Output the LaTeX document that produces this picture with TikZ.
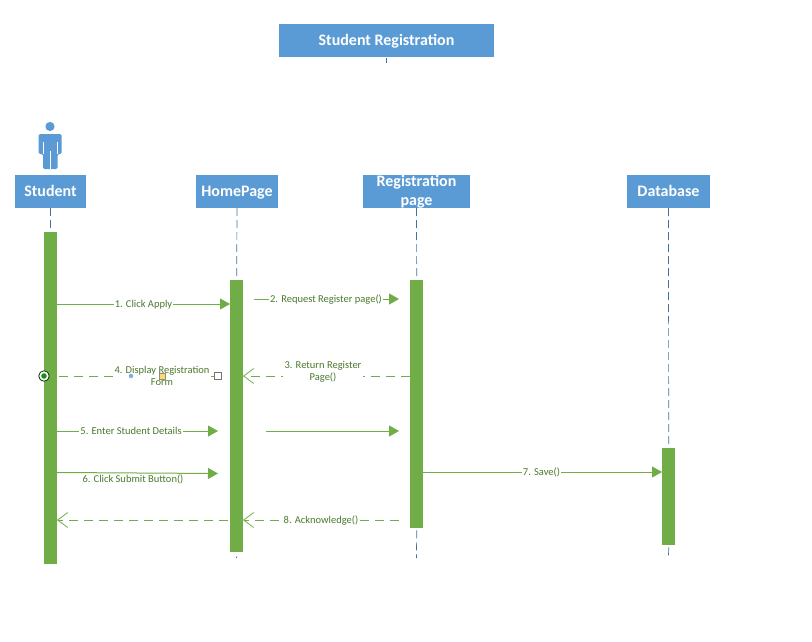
\documentclass[tikz,border=0pt]{standalone}
\usepackage{fontspec}
\setmainfont{Carlito}
\usetikzlibrary{arrows.meta}
\definecolor{hdrblue}{HTML}{5B9BD5}
\definecolor{linegreen}{HTML}{70AD47}
\definecolor{txtgreen}{HTML}{4A7A2E}
\definecolor{lifeblue}{HTML}{41719C}
\tikzset{
  header/.style={fill=hdrblue,text=white,font=\fontsize{16}{21}\selectfont\bfseries,align=center,inner sep=0pt,anchor=center},
  oneline/.style={text height=12.5pt,text depth=2.5pt},
  bar/.style={fill=linegreen,inner sep=0pt,anchor=north west},
  lifeline/.style={draw=lifeblue,line width=0.7pt,dash pattern=on 8pt off 4pt},
  msg/.style={draw=linegreen,line width=1pt,-{Triangle[length=10pt,width=11pt,fill=linegreen]}},
  retmsg/.style={draw=linegreen,line width=1pt,dash pattern=on 9pt off 6pt,-{Straight Barb[length=10pt,width=15pt,line width=0.8pt]}},
  dashmsg/.style={draw=linegreen,line width=1pt,dash pattern=on 9pt off 6pt},
  lbl/.style={text=txtgreen,font=\fontsize{10.5}{12}\selectfont,align=center,inner sep=1pt,fill=white},
  lblclear/.style={text=txtgreen,font=\fontsize{10.5}{12}\selectfont,align=center,inner sep=0pt},
}
\begin{document}
\begin{tikzpicture}[x=1pt,y=-1pt]
\useasboundingbox (0,0) rectangle (812,642);
% headers
\node[header,oneline,minimum width=215pt,minimum height=33pt] (title) at (386.5,40.5) {Student Registration};
\node[header,oneline,minimum width=71pt,minimum height=33pt] (student) at (50.5,191.5) {Student};
\node[header,oneline,minimum width=82pt,minimum height=33pt] (home) at (237,191.5) {HomePage};
\node[header,minimum width=107pt,minimum height=33pt] (reg) at (416.5,191.5) {};
\node[header,oneline,minimum width=83pt,minimum height=33pt] (db) at (668.5,191.5) {Database};
\node[header,fill=none,text width=107pt] (regtext) at (416.5,191.5) {Registration\\[-2pt]page};
% actor
\fill[hdrblue] (50,126.5) circle (4.6);
\fill[hdrblue,rounded corners=1.5pt] (38.5,134) -- (61.5,134) -- (61.5,154) -- (57.5,154) -- (57.5,169) -- (43,169) -- (43,154) -- (38.5,154) -- cycle;
\draw[white,line width=1pt] (50,151) -- (50,169);
\draw[white,line width=0.6pt] (43,142) -- (43,154) (57.5,142) -- (57.5,154);
% bars
\node[bar,minimum width=13pt,minimum height=332pt] (barS) at (44,232) {};
\node[bar,minimum width=13pt,minimum height=272pt] (barH) at (230,280) {};
\node[bar,minimum width=13pt,minimum height=248pt] (barR) at (410,280) {};
\node[bar,minimum width=13pt,minimum height=97pt] (barD) at (662,448) {};
% lifelines
\coordinate (tTick) at (386.5,63);
\coordinate (sEnd) at (50.5,230);
\coordinate (hTail) at (236.5,558);
\coordinate (rTail) at (416.5,558);
\coordinate (dTail) at (668.5,558);
\draw[draw=lifeblue,line width=0.7pt] ([yshift=-1pt]title.south) -- (tTick);
\draw[lifeline] (student.south) -- (sEnd);
\draw[lifeline] (home.south) -- (barH.north);
\draw[lifeline] (reg.south) -- (barR.north);
\draw[lifeline] (db.south) -- (barD.north);
\draw[draw=lifeblue,line width=0.7pt] ([yshift=-4pt]barH.south) -- (hTail);
\draw[lifeline] ([yshift=-2pt]barR.south) -- (rTail);
\draw[lifeline] ([yshift=-2pt]barD.south) -- (dTail);
% message anchors
\coordinate (m1a) at (57,304); \coordinate (m1b) at (230,304);
\coordinate (m2a) at (254,299); \coordinate (m2b) at (399,299);
\coordinate (m3a) at (410,376); \coordinate (m3b) at (243,376);
\coordinate (m4a) at (218,376); \coordinate (m4b) at (44,376);
\coordinate (m5a) at (57,431); \coordinate (m5b) at (218,431);
\coordinate (m5c) at (266,431); \coordinate (m5d) at (399,431);
\coordinate (m6a) at (57,472.5); \coordinate (m6b) at (218,473.5);
\coordinate (m7a) at (423,472); \coordinate (m7b) at (662,472);
\coordinate (m8a) at (399,520); \coordinate (m8b) at (243,520);
\coordinate (m8c) at (243,520); \coordinate (m8d) at (57,520);
% messages
\draw[msg] (m1a) -- node[lbl,yshift=-0.5pt] (l1) {1. Click Apply} (m1b);
\draw[msg] (m2a) -- node[lbl,xshift=-0.5pt,yshift=-0.5pt] (l2) {2. Request Register page()} (m2b);
\draw[retmsg] (m3a) -- (m3b);
\node[lbl,inner sep=2pt] (l3) at (323,372) {3. Return Register\\Page()};
\draw[dashmsg] (m4a) -- (m4b);
\node[lbl,inner sep=2pt] (l4) at (162,375.5) {4. Display Registration\\Form};
\draw[msg] (m5a) -- node[lbl,pos=0.46] (l5) {5. Enter Student Details} (m5b);
\draw[msg] (m5c) -- (m5d);
\draw[msg] (m6a) -- (m6b);
\node[lblclear] (l6) at (133,479.5) {6. Click Submit Button()};
\draw[msg] (m7a) -- node[lbl,xshift=-1pt] (l7) {7. Save()} (m7b);
\draw[retmsg] (m8a) -- node[lbl,yshift=-1pt] (l8) {8. Acknowledge()} (m8b);
\draw[retmsg] (m8c) -- (m8d);
% selection handles
\node[draw=black!55,fill=white,line width=0.6pt,minimum size=6.5pt,inner sep=0pt] (h1) at (218,376) {};
\node[fill=hdrblue!80,circle,minimum size=4.5pt,inner sep=0pt] (h2) at (131,376) {};
\node[draw=black!45,fill=yellow!60!orange!60,line width=0.5pt,minimum size=6pt,inner sep=0pt] (h3) at (162,376) {};
\node[draw=black!80!green,fill=white,circle,line width=0.8pt,minimum size=10.5pt,inner sep=0pt] (h4) at (44,376) {};
\fill[green!50!black!90] (h4.center) circle (2.8);
\end{tikzpicture}
\end{document}
